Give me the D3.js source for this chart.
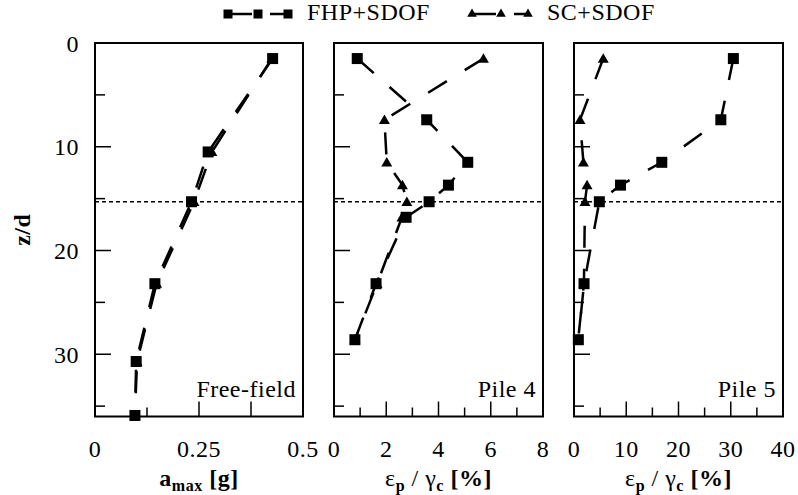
<!DOCTYPE html>
<html lang="en">
<head>
<meta charset="UTF-8">
<title>Free-field / Pile 4 / Pile 5</title>
<script src="https://d3js.org/d3.v7.min.js"></script>
<style>
  body { margin: 0; background: #fff; }
  .frame { fill: none; stroke: #000; stroke-width: 2; }
  .tick { stroke: #000; stroke-width: 1.5; }
  .series { fill: none; stroke: #000; stroke-width: 2.5; stroke-dasharray: 22, 21; }
  .ref { stroke: #000; stroke-width: 1.6; stroke-dasharray: 4, 3; }
</style>
</head>
<body>
<div id="chart"></div>
<script>
// depth z/d of each measurement
const ffDepth = [1.5, 10.5, 15.3, 23.2, 30.7, 35.9];
const pileDepth = [1.5, 7.4, 11.5, 13.7, 15.3, 16.8, 23.2, 28.6];

// free-field a_max [g]
const ffFHP = [0.427, 0.272, 0.232, 0.144, 0.099, 0.096];
const ffSC  = [0.425, 0.281, 0.238, 0.148, 0.101, 0.096];

// pile 4, eps_p / gamma_c [%]
const pile4FHP = [0.89, 3.55, 5.12, 4.38, 3.64, 2.76, 1.61, 0.80];
const pile4SC  = [5.72, 1.93, 2.02, 2.62, 2.79, 2.60, 1.65, 0.80];

// pile 5, eps_p / gamma_c [%] (null = no reading)
const pile5FHP = [30.5, 28.1, 16.8, 8.9, 4.85, null, 1.92, 0.83];
const pile5SC  = [5.6, 1.15, 1.8, 2.5, 2.1, null, 1.9, 0.8];

const seriesNames = ["FHP+SDOF", "SC+SDOF"];
const zTicks = [0, 10, 20, 30];
const zMinor = [5, 15, 25, 35];
const ffTicks = [0, 0.25, 0.5];
const pileTicks4 = [0, 2, 4, 6, 8];
const pileTicks5 = [0, 10, 20, 30, 40];
const panelNames = ["Free-field", "Pile 4", "Pile 5"];
const interfaceDepth = 15.3;

const W = 798, H = 495;
const yTop = 43, yBottom = 416.5;
const FONT = '"Liberation Serif"';

const svg = d3.select("#chart").append("svg")
  .attr("width", W).attr("height", H);

const y = d3.scaleLinear().domain([0, 36]).range([yTop, yBottom]);

const panels = [
  { name: panelNames[0], domain: [0, 0.5], range: [95, 303], ticks: ffTicks,
    major: [0.25, 0.375], minor: [0.125], fmt: d => String(d),
    depth: ffDepth, fhp: ffFHP, sc: ffSC },
  { name: panelNames[1], domain: [0, 8], range: [334, 543], ticks: pileTicks4,
    major: [2, 4, 6], minor: [1, 3, 5, 7], fmt: String,
    depth: pileDepth, fhp: pile4FHP, sc: pile4SC },
  { name: panelNames[2], domain: [0, 40], range: [574, 783], ticks: pileTicks5,
    major: [10, 20, 30], minor: [5, 15, 25, 35], fmt: String,
    depth: pileDepth, fhp: pile5FHP, sc: pile5SC }
];

const tri = d3.symbol().type(d3.symbolTriangle).size(52);

panels.forEach((p, i) => {
  const x = d3.scaleLinear().domain(p.domain).range(p.range);
  const g = svg.append("g");

  // inner ticks, left side
  g.selectAll(".ytick-major").data(zTicks.slice(1)).enter().append("line")
    .attr("class", "tick")
    .attr("x1", p.range[0]).attr("x2", p.range[0] + 16)
    .attr("y1", d => y(d)).attr("y2", d => y(d));
  g.selectAll(".ytick-minor").data(zMinor).enter().append("line")
    .attr("class", "tick")
    .attr("x1", p.range[0]).attr("x2", p.range[0] + 10)
    .attr("y1", d => y(d)).attr("y2", d => y(d));

  // inner ticks, bottom
  g.selectAll(".xtick-major").data(p.major).enter().append("line")
    .attr("class", "tick")
    .attr("x1", d => x(d)).attr("x2", d => x(d))
    .attr("y1", yBottom).attr("y2", yBottom - 15);
  g.selectAll(".xtick-minor").data(p.minor).enter().append("line")
    .attr("class", "tick")
    .attr("x1", d => x(d)).attr("x2", d => x(d))
    .attr("y1", yBottom).attr("y2", yBottom - 9);

  // x tick labels
  g.selectAll(".xl").data(p.ticks).enter().append("text")
    .attr("x", d => x(d)).attr("y", 457)
    .attr("text-anchor", "middle")
    .text(p.fmt);

  // interface line
  g.append("line").attr("class", "ref")
    .attr("x1", p.range[0]).attr("x2", p.range[1])
    .attr("y1", y(interfaceDepth)).attr("y2", y(interfaceDepth));

  const pts = arr => p.depth.map((z, k) => ({ z, v: arr[k] })).filter(d => d.v != null);
  const line = d3.line().x(d => x(d.v)).y(d => y(d.z));

  const fhp = pts(p.fhp), sc = pts(p.sc);

  g.append("path").attr("class", "series").attr("d", line(sc));
  g.append("path").attr("class", "series").attr("d", line(fhp));

  g.selectAll(".tri").data(sc).enter().append("path")
    .attr("d", tri)
    .attr("transform", d => `translate(${x(d.v)},${y(d.z) + 1})`)
    .attr("fill", "#000");

  g.selectAll(".sq").data(fhp).enter().append("rect")
    .attr("x", d => x(d.v) - 5.5).attr("y", d => y(d.z) - 5.5)
    .attr("width", 11).attr("height", 11)
    .attr("fill", "#000");

  // frame
  g.append("rect").attr("class", "frame")
    .attr("x", p.range[0]).attr("y", yTop)
    .attr("width", p.range[1] - p.range[0]).attr("height", yBottom - yTop);

  // panel label
  g.append("text")
    .attr("x", p.range[1] - 7).attr("y", 397)
    .attr("text-anchor", "end")
    .text(p.name);

  // x axis title
  const t = g.append("text")
    .attr("x", (p.range[0] + p.range[1]) / 2).attr("y", 486)
    .attr("text-anchor", "middle");
  if (i === 0) {
    t.append("tspan").attr("font-weight", "bold").text("a");
    t.append("tspan").attr("font-weight", "bold").style("font-size", "16px")
      .attr("dy", 5).text("max");
    t.append("tspan").attr("font-weight", "bold").attr("dy", -5).text(" [g]");
  } else {
    t.append("tspan").text("ε");
    t.append("tspan").attr("font-weight", "bold").style("font-size", "16px")
      .attr("dy", 5).text("p");
    t.append("tspan").attr("dy", -5).text(" / γ");
    t.append("tspan").attr("font-weight", "bold").style("font-size", "16px")
      .attr("dy", 5).text("c");
    t.append("tspan").attr("font-weight", "bold").attr("dy", -5).text(" [%]");
  }
});

// y tick labels
svg.selectAll(".yl").data(zTicks).enter().append("text")
  .attr("x", 79).attr("y", d => y(d) + 8.5)
  .attr("text-anchor", "end")
  .text(d => d);

// y axis title
svg.append("text")
  .attr("transform", `translate(30,${(yTop + yBottom) / 2}) rotate(-90)`)
  .attr("text-anchor", "middle")
  .attr("font-weight", "bold")
  .text("z/d");

// legend
const leg = [
  { name: seriesNames[0], marks: [228, 258, 288], tx: 307, sym: "sq" },
  { name: seriesNames[1], marks: [472, 501, 528], tx: 547, sym: "tri" }
];
leg.forEach(l => {
  const lg = svg.append("g");
  lg.append("line").attr("class", "series")
    .attr("x1", l.marks[0]).attr("x2", l.marks[2])
    .attr("y1", 14).attr("y2", 14)
    .style("stroke-dasharray", "24,18");
  if (l.sym === "sq") {
    lg.selectAll("rect").data(l.marks).enter().append("rect")
      .attr("x", d => d - 4.5).attr("y", 9.5).attr("width", 9).attr("height", 9);
  } else {
    lg.selectAll("path").data(l.marks).enter().append("path")
      .attr("d", d3.symbol().type(d3.symbolTriangle).size(40))
      .attr("transform", d => `translate(${d},14)`);
  }
  lg.append("text").attr("x", l.tx).attr("y", 20).text(l.name);
});

// serif font on every label
svg.selectAll("text")
  .style("font-family", FONT)
  .style("font-size", "24px")
  .style("letter-spacing", "0.5px")
  .attr("fill", "#000");
</script>
</body>
</html>
